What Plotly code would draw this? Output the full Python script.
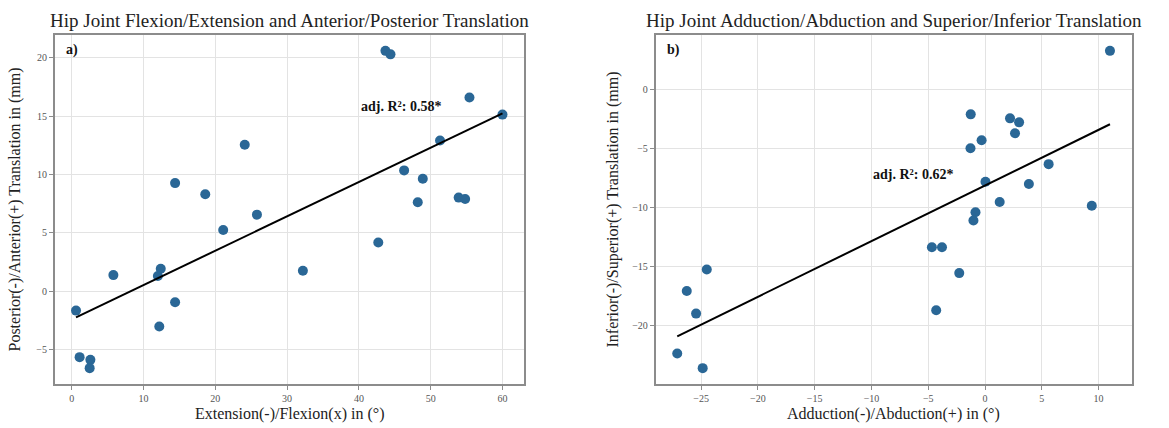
import numpy as np
import plotly.graph_objects as go

# Panel a: flexion/extension angle vs anterior/posterior translation
flex_ext_deg = [0.6, 1.1, 2.6, 2.5, 5.8, 12.4, 12.0, 12.2, 14.4, 14.4, 18.6, 21.1,
                24.1, 25.8, 32.2, 42.7, 43.7, 44.4, 46.3, 48.2, 48.9, 51.3, 53.9,
                54.8, 55.4, 60.0]
ant_post_mm = [-1.65, -5.64, -5.87, -6.58, 1.39, 1.93, 1.31, -3.02, -0.94, 9.27,
               8.31, 5.26, 12.55, 6.57, 1.76, 4.18, 20.6, 20.3, 10.36, 7.63, 9.65,
               12.92, 8.03, 7.91, 16.6, 15.14]

# Panel b: adduction/abduction angle vs superior/inferior translation
add_abd_deg = [11.0, -1.26, 2.2, 3.0, 2.64, -0.3, -1.28, 5.6, 0.04, 3.86, 1.29,
               9.4, -0.84, -1.02, -4.68, -3.79, -2.27, -4.3, -24.5, -26.26,
               -25.44, -27.1, -24.86]
sup_inf_mm = [3.3, -2.09, -2.43, -2.77, -3.70, -4.29, -4.97, -6.32, -7.82, -8.01,
              -9.53, -9.85, -10.41, -11.11, -13.37, -13.37, -15.57, -18.73,
              -15.26, -17.09, -19.01, -22.39, -23.64]

titles = ["Hip Joint Flexion/Extension and Anterior/Posterior Translation",
          "Hip Joint Adduction/Abduction and Superior/Inferior Translation"]
x_labels = ["Extension(-)/Flexion(x) in (°)", "Adduction(-)/Abduction(+) in (°)"]
y_labels = ["Posterior(-)/Anterior(+) Translation in (mm)",
            "Inferior(-)/Superior(+) Translation in (mm)"]
panel_tags = ["a)", "b)"]
r2_texts = ["adj. R²: 0.58*", "adj. R²: 0.62*"]
r2_pos = [(40, 15), (-10, -8)]

x_ticks = [[0, 10, 20, 30, 40, 50, 60], [-25, -20, -15, -10, -5, 0, 5, 10]]
y_ticks = [[-5, 0, 5, 10, 15, 20], [-25, -20, -15, -10, -5, 0]]

FONT = "Liberation Serif"
POINT = "#2a6796"
W, H = 1169, 428

domains_x = [(54.7 / W, 523.8 / W), (655.6 / W, 1131.6 / W)]
dom_y = (1 - 384 / H, 1 - 35 / H)

fig = go.Figure()
datasets = [(flex_ext_deg, ant_post_mm), (add_abd_deg, sup_inf_mm)]

for i, (xs, ys) in enumerate(datasets):
    xa = "x" if i == 0 else "x2"
    ya = "y" if i == 0 else "y2"
    xs_a = np.array(xs)
    ys_a = np.array(ys)
    fig.add_trace(go.Scatter(x=xs, y=ys, mode="markers", xaxis=xa, yaxis=ya,
                             marker=dict(color=POINT, size=10, line=dict(width=0)),
                             showlegend=False))
    slope, icpt = np.polyfit(xs_a, ys_a, 1)
    lx = [xs_a.min(), xs_a.max()]
    fig.add_trace(go.Scatter(x=lx, y=[slope * v + icpt for v in lx], mode="lines",
                             xaxis=xa, yaxis=ya,
                             line=dict(color="black", width=2), showlegend=False))

    span_x = xs_a.max() - xs_a.min()
    span_y = ys_a.max() - ys_a.min()
    xr = [xs_a.min() - 0.05 * span_x, xs_a.max() + 0.05 * span_x]
    yr = [ys_a.min() - 0.05 * span_y, ys_a.max() + 0.05 * span_y]

    axis_common = dict(showgrid=True, gridcolor="#e3e3e3", gridwidth=1,
                       zeroline=False, showline=True, mirror=True,
                       linecolor="#8c8c8c", linewidth=1.5,
                       ticks="outside", ticklen=4, tickcolor="#8c8c8c",
                       tickfont=dict(family=FONT, size=10, color="#555555"))
    xkey = "xaxis" if i == 0 else "xaxis2"
    ykey = "yaxis" if i == 0 else "yaxis2"
    fig.update_layout(**{
        xkey: dict(domain=list(domains_x[i]), range=xr, tickvals=x_ticks[i],
                   anchor=ya, **axis_common),
        ykey: dict(domain=list(dom_y), range=yr, tickvals=y_ticks[i],
                   anchor=xa, **axis_common),
    })

    cx = (domains_x[i][0] + domains_x[i][1]) / 2
    # subplot title
    fig.add_annotation(text=titles[i], xref="paper", yref="paper", x=cx, y=1 - 20 / H,
                       xanchor="center", yanchor="middle", showarrow=False,
                       font=dict(family=FONT, size=19, color="#222222"))
    # x axis label
    fig.add_annotation(text=x_labels[i], xref="paper", yref="paper", x=cx, y=1 - 414 / H,
                       xanchor="center", yanchor="middle", showarrow=False,
                       font=dict(family=FONT, size=16, color="#222222"))
    # y axis label
    ylab_x = [15 / W, 613 / W][i]
    fig.add_annotation(text=y_labels[i], xref="paper", yref="paper", x=ylab_x,
                       y=(dom_y[0] + dom_y[1]) / 2, textangle=-90,
                       xanchor="center", yanchor="middle", showarrow=False,
                       font=dict(family=FONT, size=16, color="#222222"))
    # panel tag
    fig.add_annotation(text="<b>" + panel_tags[i] + "</b>", xref=xa + " domain",
                       yref=ya + " domain", x=0.02, y=0.985, xanchor="left",
                       yanchor="top", showarrow=False,
                       font=dict(family=FONT, size=14, color="#111111"))
    # fit statistic
    fig.add_annotation(text="<b>" + r2_texts[i] + "</b>", xref=xa, yref=ya,
                       x=r2_pos[i][0], y=r2_pos[i][1], xanchor="left",
                       yanchor="bottom", showarrow=False,
                       font=dict(family=FONT, size=14, color="#111111"))

fig.update_layout(width=W, height=H, margin=dict(l=0, r=0, t=0, b=0),
                  plot_bgcolor="white", paper_bgcolor="white")

fig.write_html("out.html")
